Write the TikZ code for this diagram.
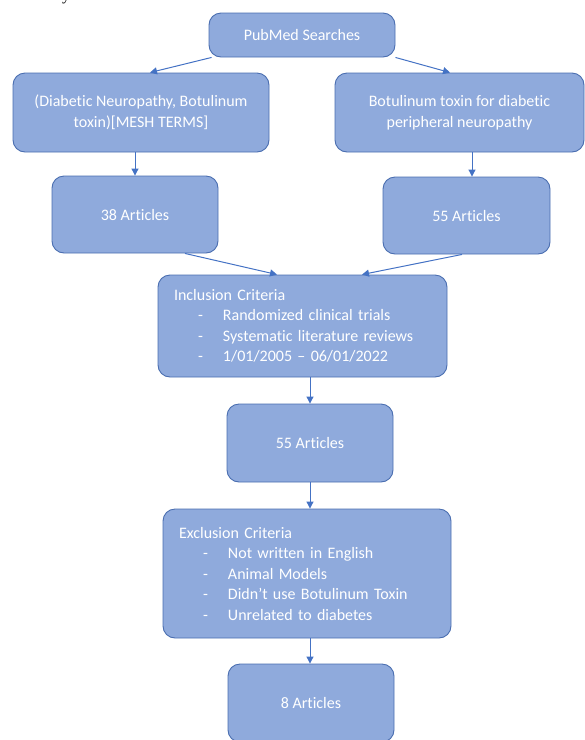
\documentclass[tikz,border=0pt]{standalone}
\usepackage{fontspec}
\setmainfont[Ligatures=NoCommon]{Carlito}
\newfontfamily\bodyserif{Liberation Serif}
\usetikzlibrary{calc,arrows.meta}
\definecolor{boxfill}{HTML}{8FAADC}
\definecolor{boxline}{HTML}{4A6EB0}
\definecolor{arrowblue}{HTML}{4472C4}
% one criterion line: indented dash, then the item text
\newcommand\critem[1]{\makebox[49pt][l]{\hspace{24pt}-}#1}
\begin{document}
\begin{tikzpicture}[x=1pt,y=-1pt,
  box/.style={draw=boxline, line width=0.9pt, fill=boxfill, rounded corners=12pt,
    text=white, font=\fontsize{16}{21}\selectfont, inner sep=0pt, align=center},
  listbox/.style={box, align=left, inner xsep=16pt, inner ysep=0pt,
    font=\fontsize{16}{20.5}\selectfont},
  link/.style={draw=arrowblue, line width=1pt, -{Triangle[length=7pt,width=7pt]}}]
\useasboundingbox (0,0) rectangle (585,740);
\clip (0,0) rectangle (585,740);

% tail of a text line above the chart
\node[anchor=base west, inner sep=0pt, font=\bodyserif\fontsize{16}{16}\selectfont] (ytail) at (62,0.5) {y};

% boxes
\node[box, minimum width=186pt, minimum height=44pt] (pub) at (302,35) {PubMed Searches};
\node[box, minimum width=256pt, minimum height=79pt] (lq) at (141,112.5)
  {(Diabetic Neuropathy, Botulinum\\toxin)[MESH TERMS]};
\node[box, minimum width=249pt, minimum height=79pt] (rq) at (459.5,112.5)
  {Botulinum toxin for diabetic\\peripheral neuropathy};
\node[box, minimum width=166pt, minimum height=77pt] (a38) at (135,214.5) {38 Articles};
\node[box, minimum width=167pt, minimum height=77pt] (a55r) at (466.5,215.5) {55 Articles};
\node[listbox, text width=257pt, minimum height=102pt] (inc) at (302.5,326)
  {Inclusion Criteria\\
   \critem{Randomized clinical trials}\\
   \critem{Systematic literature reviews}\\
   \critem{1/01/2005 – 06/01/2022}};
\node[box, minimum width=166pt, minimum height=78pt] (a55) at (310,443) {55 Articles};
\node[listbox, text width=256pt, minimum height=129pt] (exc) at (307,573.5)
  {Exclusion Criteria\\
   \critem{Not written in English}\\
   \critem{Animal Models}\\
   \critem{Didn’t use Botulinum Toxin}\\
   \critem{Unrelated to diabetes}};
\node[box, minimum width=166pt, minimum height=78pt] (a8) at (311,703) {8 Articles};

% connectors
\draw[link] ($(pub.south west)+(3,0)$) -- ($(lq.north)+(9,0)$);
\draw[link] (pub.south east) -- ($(rq.north)+(-9.5,0)$);
\draw[link] (a38.north |- lq.south) -- (a38.north);
\draw[link] ($(rq.south)+(12.5,0)$) -- ($(a55r.north)+(5.5,0)$);
\draw[link] ($(a38.south)+(50,0)$) -- ($(inc.north)+(-25.5,0)$);
\draw[link] ($(a55r.south)+(-4.5,0)$) -- ($(inc.north)+(59.5,0)$);
\draw[link] ($(inc.south)+(7.5,0)$) -- (a55.north);
\draw[link] (a55.south) -- ($(exc.north)+(3,0)$);
\draw[link] ($(exc.south)+(3,0)$) -- ($(a8.north)+(-1,0)$);
\end{tikzpicture}
\end{document}
